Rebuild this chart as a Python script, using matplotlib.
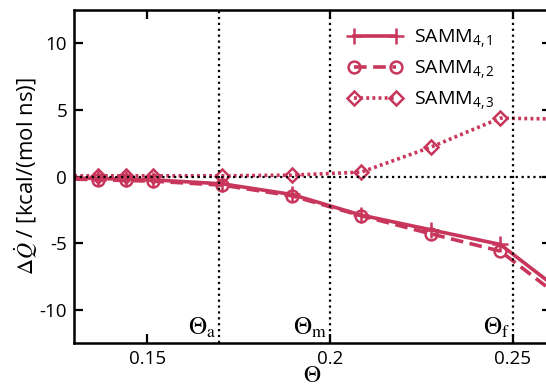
import matplotlib
matplotlib.use("Agg")
import matplotlib.pyplot as plt

theta = [0.1250, 0.1366, 0.1441, 0.1516, 0.1706, 0.1896, 0.2086, 0.2276, 0.2466, 0.2656]
samm41 = [-0.10, -0.15, -0.20, -0.25, -0.55, -1.35, -2.90, -4.00, -5.10, -9.10]
samm42 = [-0.15, -0.25, -0.30, -0.35, -0.65, -1.45, -2.95, -4.30, -5.60, -9.60]
samm43 = [0.05, 0.05, 0.05, 0.05, 0.05, 0.10, 0.33, 2.20, 4.38, 4.30]
labels = [r"SAMM$_{4,1}$", r"SAMM$_{4,2}$", r"SAMM$_{4,3}$"]
vlines = [0.1697, 0.2, 0.25]
vlabels = [r"$\Theta_\mathrm{a}$", r"$\Theta_\mathrm{m}$", r"$\Theta_\mathrm{f}$"]
xticks = [0.15, 0.2, 0.25]
xticklabels = ["0.15", "0.2", "0.25"]
yticks = [-10, -5, 0, 5, 10]
yticklabels = ["-10", "-5", "0", "5", "10"]

plt.rcParams['font.family'] = ['Open Sans', 'DejaVu Sans']
plt.rcParams['mathtext.fontset'] = 'custom'
plt.rcParams['mathtext.rm'] = 'Open Sans'
plt.rcParams['mathtext.it'] = 'Open Sans:italic'
plt.rcParams['mathtext.bf'] = 'Open Sans:bold'

col = '#c8365c'
fig = plt.figure(figsize=(5.46, 3.87), dpi=100)
ax = fig.add_axes([74/546, 44/387, (551-74)/546, (343-10)/387])

ax.plot(theta, samm41, '-', color=col, lw=2.6, marker='+', ms=12, mew=1.8, label=labels[0])
ax.plot(theta, samm42, '--', color=col, lw=2.6, marker='o', ms=8.5, mew=1.8,
        mfc='none', label=labels[1], dashes=(3.5, 1.8))
ax.plot(theta, samm43, ':', color=col, lw=2.6, marker='D', ms=7, mew=1.8,
        mfc='none', label=labels[2], dashes=(0.8, 0.9))

for xv, lab in zip(vlines, vlabels):
    ax.axvline(xv, color='black', ls=':', lw=1.6, zorder=5)
    ax.text(xv - 0.0008, -12.3, lab, ha='right', va='bottom', fontsize=18,
            math_fontfamily='stix', zorder=6)
ax.axhline(0, color='black', ls=':', lw=1.6, zorder=5)

ax.set_xlim(0.13, 0.2605)
ax.set_ylim(-12.5, 12.5)
ax.set_xticks(xticks)
ax.set_xticklabels(xticklabels)
ax.set_yticks(yticks)
ax.set_yticklabels(yticklabels)
ax.tick_params(direction='in', length=6.5, width=1.6, labelsize=13.5,
               top=True, right=True, pad=5)
for s in ax.spines.values():
    s.set_linewidth(1.8)

ax.set_ylabel(r"$\Delta\dot{Q}$ / [kcal/(mol ns)]", fontsize=16, labelpad=0,
              math_fontfamily='stix')
ax.set_xlabel(r"$\Theta$", fontsize=17, labelpad=-3, math_fontfamily='stix')

leg = ax.legend(loc='upper left', bbox_to_anchor=(0.547, 0.99), frameon=False,
                fontsize=14, handlelength=2.75, numpoints=2, labelspacing=0.45,
                handletextpad=0.6, borderaxespad=0.3)

fig.savefig('out.png', dpi=100)
